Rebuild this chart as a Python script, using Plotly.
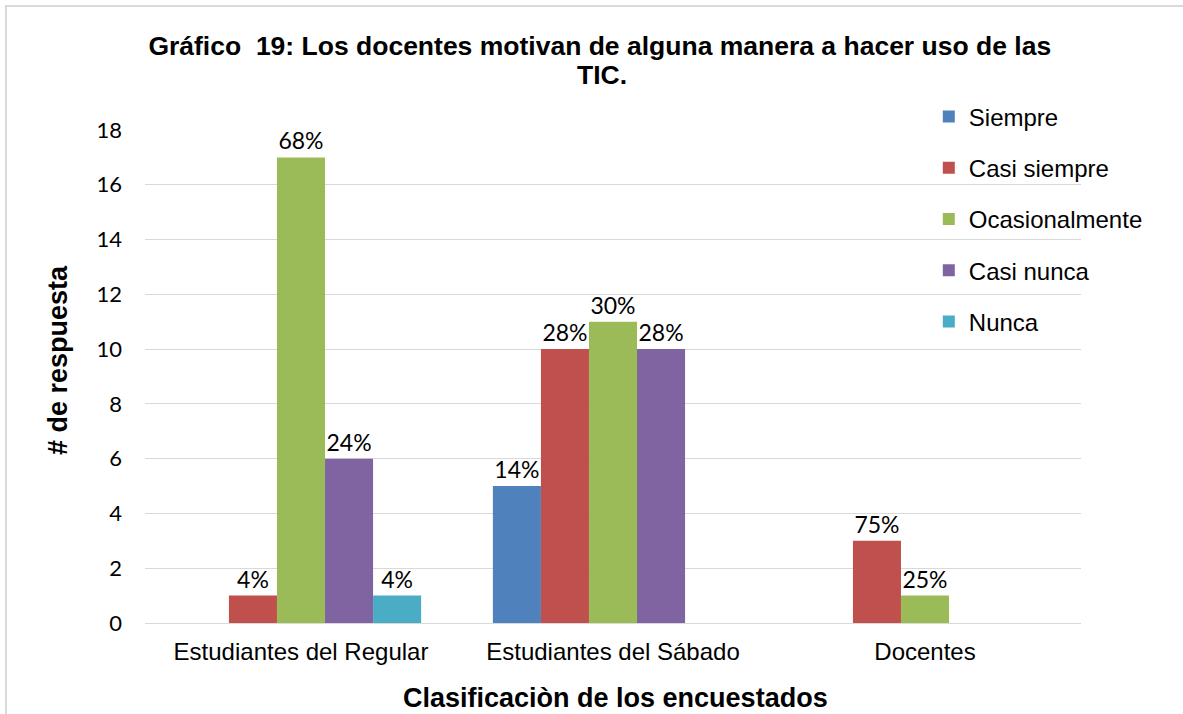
import plotly.graph_objs as go

# Categories and series
categories = ['Estudiantes del Regular', 'Estudiantes del Sábado', 'Docentes']
series_names = ['Siempre', 'Casi siempre', 'Ocasionalmente', 'Casi nunca', 'Nunca']

siempre = [0, 5, 0]
casi_siempre = [1, 10, 3]
ocasionalmente = [17, 11, 1]
casi_nunca = [6, 10, 0]
nunca = [1, 0, 0]

siempre_pct = ['', '14%', '']
casi_siempre_pct = ['4%', '28%', '75%']
ocasionalmente_pct = ['68%', '30%', '25%']
casi_nunca_pct = ['24%', '28%', '']
nunca_pct = ['4%', '', '']

colors = ['#4f81bd', '#c0504d', '#9bbb59', '#8064a2', '#4bacc6']
values = [siempre, casi_siempre, ocasionalmente, casi_nunca, nunca]
labels = [siempre_pct, casi_siempre_pct, ocasionalmente_pct, casi_nunca_pct, nunca_pct]

fig = go.Figure()

for name, vals, txt, color in zip(series_names, values, labels, colors):
    fig.add_trace(go.Bar(
        x=categories, y=vals, name=name, legendgroup=name,
        marker=dict(color=color, line=dict(width=0)),
        text=txt, textposition='outside', cliponaxis=False,
        textfont=dict(family='Lato', size=23, color='#000000'),
        hoverinfo='skip',
    ))

title_font = dict(family='Liberation Sans', size=26.5, color='#000000', weight='bold')
axis_title_font = dict(family='Liberation Sans', size=27, color='#000000', weight='bold')

fig.update_layout(
    width=1183, height=714,
    margin=dict(l=145, r=102, t=130, b=91),
    paper_bgcolor='white', plot_bgcolor='white',
    barmode='group', bargap=0.23, bargroupgap=0,
    title=dict(
        text='Gráfico  19: Los docentes motivan de alguna manera a hacer uso de las',
        font=title_font,
        x=0.507, xref='container', xanchor='center',
        y=1 - 46 / 714, yref='container', yanchor='middle',
    ),
    legend=dict(
        x=0.8374, y=1.072, xanchor='left', yanchor='top',
        bgcolor='rgba(0,0,0,0)', tracegroupgap=17,
        font=dict(family='Liberation Sans', size=24, color='#000000'),
        itemclick=False, itemdoubleclick=False,
    ),
    showlegend=True,
)

# second title line and axis titles
fig.add_annotation(text='TIC.', xref='paper', yref='paper', showarrow=False,
                   x=(602 - 145) / 936, y=(623 - 75) / 493, xanchor='center', yanchor='middle',
                   font=title_font)
fig.add_annotation(text='Clasificaciòn de los encuestados', xref='paper', yref='paper', showarrow=False,
                   x=(615 - 145) / 936, y=(623 - 698) / 493, xanchor='center', yanchor='middle',
                   font=axis_title_font)
fig.add_annotation(text='# de respuesta', xref='paper', yref='paper', showarrow=False, textangle=-90,
                   x=(58 - 145) / 936, y=(623 - 360) / 493, xanchor='center', yanchor='middle',
                   font=axis_title_font)

fig.update_xaxes(
    showgrid=False, showline=False, ticks='', ticklabelstandoff=12,
    tickfont=dict(family='Liberation Sans', size=24, color='#000000'),
)

fig.update_yaxes(
    range=[0, 18], dtick=2, showgrid=True, gridcolor='#d9d9d9', gridwidth=1,
    zeroline=True, zerolinecolor='#d9d9d9', zerolinewidth=1,
    showline=False, ticks='', ticklabelstandoff=22,
    tickfont=dict(family='Lato', size=22, color='#000000'),
)

# outer chart border
fig.add_shape(type='rect', xref='paper', yref='paper',
              x0=(6 - 145) / 936, x1=(1190 - 145) / 936,
              y0=(623 - 720) / 493, y1=(623 - 6) / 493,
              line=dict(color='#d9d9d9', width=2), fillcolor='rgba(0,0,0,0)', layer='below')

fig.write_html('out.html', config={'displayModeBar': False},
               post_script="document.body.style.margin='0';")
